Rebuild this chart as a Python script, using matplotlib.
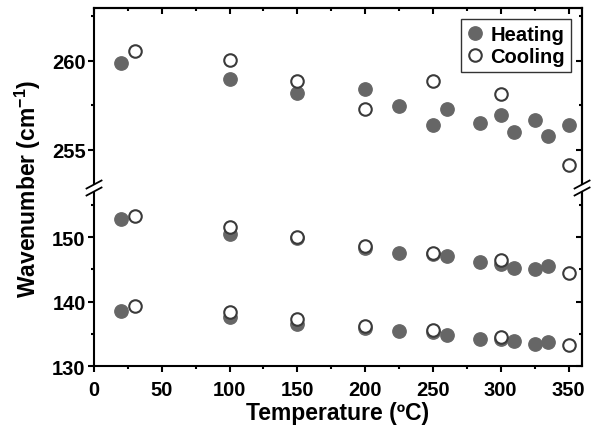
# -*- coding: utf-8 -*-
### Wavenumber vs temperature, heating / cooling, broken y axis ###

import matplotlib
matplotlib.use("Agg")
from matplotlib import pyplot as plt
from matplotlib.lines import Line2D
from matplotlib.patches import Rectangle
from matplotlib.ticker import MultipleLocator

## Data ##

# Heating #
T_heat = [20, 100, 150, 200, 225, 250, 260, 285, 300, 310, 325, 335, 350]
Heat_high = [259.9, 258.97, 258.19, 258.41, 257.47, 256.39, 257.30, 256.50, 256.97, 255.99, 256.69, 255.75, 256.37]
Heat_mid = [152.8, 150.5, 149.8, 148.4, 147.5, 147.4, 147.1, 146.1, 145.9, 145.3, 145.1, 145.5, None]
Heat_low = [138.6, 137.7, 136.6, 135.9, 135.5, 135.3, 134.8, 134.2, 134.3, 133.9, 133.5, 133.8, None]

# Cooling #
T_cool = [30, 100, 150, 200, 250, 300, 350]
Cool_high = [260.56, 260.06, 258.88, 257.30, 258.88, 258.16, 254.12]
Cool_mid = [153.3, 151.5, 150.0, 148.7, 147.5, 146.5, 144.4]
Cool_low = [139.4, 138.35, 137.4, 136.3, 135.6, 134.55, 133.35]

## Style ##

plt.rcParams['font.family'] = ['Liberation Sans', 'DejaVu Sans']
plt.rcParams['font.weight'] = 'bold'
plt.rcParams['mathtext.fontset'] = 'custom'
plt.rcParams['mathtext.rm'] = 'Liberation Sans:bold'
plt.rcParams['mathtext.bf'] = 'Liberation Sans:bold'

heat_color = "#666666"
cool_edge = "#3a3a3a"
lw = 1.5

fig = plt.figure(figsize=(5.97, 4.35), dpi=100)

left, width = 0.1575, 0.8175
y_mid = 0.5655
y_top = 0.9786
y_bot = 0.1552

ax_top = fig.add_axes([left, y_mid, width, y_top - y_mid])
ax_bot = fig.add_axes([left, y_bot, width, y_mid - y_bot])

def drop_none(xs, ys):
    pairs = [(x, y) for x, y in zip(xs, ys) if y is not None]
    return [p[0] for p in pairs], [p[1] for p in pairs]

## Plot points ##

ax_top.plot(T_heat, Heat_high, 'o', color=heat_color, ms=9.6, mec=heat_color, label='Heating', zorder=3)
ax_top.plot(T_cool, Cool_high, 'o', mfc='white', mec=cool_edge, mew=lw, ms=9, label='Cooling', zorder=4)

for series in (Heat_mid, Heat_low):
    xs, ys = drop_none(T_heat, series)
    ax_bot.plot(xs, ys, 'o', color=heat_color, ms=9.6, mec=heat_color, zorder=3)
for series in (Cool_mid, Cool_low):
    ax_bot.plot(T_cool, series, 'o', mfc='white', mec=cool_edge, mew=lw, ms=9, zorder=4)

## Axes ##

ax_top.set_xlim(0, 360)
ax_bot.set_xlim(0, 360)
ax_top.set_ylim(252.85, 262.95)
ax_bot.set_ylim(130, 157.6)

ax_top.yaxis.set_major_locator(MultipleLocator(5))
ax_top.yaxis.set_minor_locator(MultipleLocator(2.5))
ax_bot.yaxis.set_major_locator(MultipleLocator(10))
ax_bot.yaxis.set_minor_locator(MultipleLocator(5))
for ax in (ax_top, ax_bot):
    ax.xaxis.set_major_locator(MultipleLocator(50))
    ax.xaxis.set_minor_locator(MultipleLocator(25))
    for s in ax.spines.values():
        s.set_linewidth(lw)
    ax.tick_params(which='both', direction='out', width=lw, labelsize=14.5, right=False, top=False, pad=2)
    ax.tick_params(which='major', length=4)
    ax.tick_params(which='minor', length=2.5)
    # mirrored ticks pointing inward #
    sec = ax.secondary_yaxis('right')
    sec.yaxis.set_major_locator(ax.yaxis.get_major_locator())
    sec.yaxis.set_minor_locator(ax.yaxis.get_minor_locator())
    sec.tick_params(which='both', direction='in', width=lw, labelright=False)
    sec.tick_params(which='major', length=4)
    sec.tick_params(which='minor', length=2.5)
    sec.spines['right'].set_linewidth(lw)

ax_bot.tick_params(axis='x', which='major', pad=5.5)
ax_top.spines['bottom'].set_visible(False)
ax_bot.spines['top'].set_visible(False)
ax_top.tick_params(axis='x', which='both', bottom=False, labelbottom=False)

sec_x = ax_top.secondary_xaxis('top')
sec_x.xaxis.set_major_locator(MultipleLocator(50))
sec_x.xaxis.set_minor_locator(MultipleLocator(25))
sec_x.tick_params(which='both', direction='in', width=lw, labeltop=False)
sec_x.tick_params(which='major', length=4)
sec_x.tick_params(which='minor', length=2.5)
sec_x.spines['top'].set_linewidth(lw)

for lab in ax_top.get_yticklabels() + ax_bot.get_yticklabels() + ax_bot.get_xticklabels():
    lab.set_fontweight('bold')

## Labels ##

ax_bot.set_xlabel('Temperature (ºC)', fontsize=16.5, fontweight='bold', labelpad=2)
fig.text(0.047, (y_top + y_bot) / 2, 'Wavenumber (cm$^{\\mathbf{-1}}$)', rotation=90,
         fontsize=16.5, fontweight='bold', ha='center', va='center')

## Legend ##

leg = ax_top.legend(loc='upper right', fontsize=14.5, frameon=True, fancybox=False,
                    edgecolor='black', handlelength=0.8, handletextpad=0.35,
                    borderaxespad=0.55, borderpad=0.3, labelspacing=0.15)
leg.get_frame().set_linewidth(1.0)
for t in leg.get_texts():
    t.set_fontweight('bold')

## Break marks ##

fw, fh = fig.get_size_inches() * fig.dpi
dx = 7.5 / fw
dy = 4 / fh
gap = 3.5 / fh
for xb in (left, left + width):
    fig.patches.append(Rectangle((xb - 3 / fw, y_mid - gap), 6 / fw, 2 * gap,
                                 transform=fig.transFigure, facecolor='white',
                                 edgecolor='none', zorder=10))
    for off in (-gap, gap):
        fig.lines.append(Line2D([xb - dx, xb + dx], [y_mid + off - dy, y_mid + off + dy],
                                transform=fig.transFigure, color='black', lw=1.3, zorder=11))

plt.savefig('out.png', dpi=100)
plt.close()
